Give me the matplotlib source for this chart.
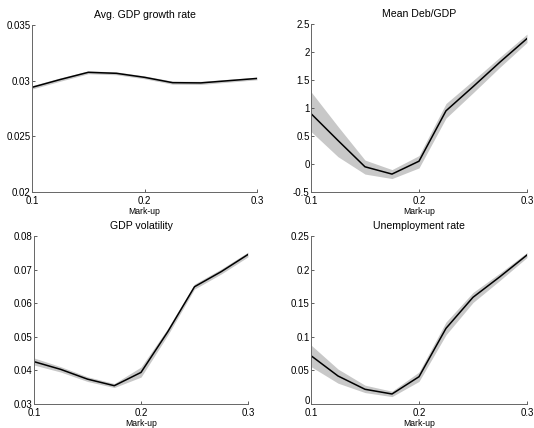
import matplotlib
matplotlib.use("Agg")
import matplotlib.pyplot as plt

plt.rcParams['font.family'] = ['Liberation Sans', 'DejaVu Sans']

markup = [0.1, 0.125, 0.15, 0.175, 0.2, 0.225, 0.25, 0.275, 0.3]

growth_mean = [0.0294, 0.0301, 0.03075, 0.03066, 0.0303, 0.02982, 0.0298, 0.0300, 0.0302]
growth_lo = [0.02925, 0.02995, 0.03062, 0.03053, 0.03017, 0.02968, 0.02966, 0.02987, 0.03008]
growth_hi = [0.02955, 0.03025, 0.03088, 0.03079, 0.03043, 0.02996, 0.02994, 0.03013, 0.03032]

debt_mean = [0.9, 0.42, -0.05, -0.18, 0.05, 0.95, 1.38, 1.82, 2.24]
debt_lo = [0.58, 0.13, -0.18, -0.26, -0.07, 0.82, 1.27, 1.73, 2.17]
debt_hi = [1.29, 0.67, 0.07, -0.10, 0.15, 1.08, 1.49, 1.91, 2.32]

vol_mean = [0.0426, 0.0403, 0.0374, 0.03545, 0.0394, 0.0515, 0.0649, 0.0694, 0.0745]
vol_lo = [0.0416, 0.0395, 0.0367, 0.0349, 0.0380, 0.0505, 0.0642, 0.0687, 0.0738]
vol_hi = [0.0437, 0.0411, 0.0381, 0.0361, 0.0410, 0.0525, 0.0657, 0.0702, 0.0752]

unemp_mean = [0.0719, 0.0417, 0.0219, 0.0149, 0.0406, 0.1126, 0.1588, 0.1895, 0.2217]
unemp_lo = [0.0556, 0.0310, 0.0170, 0.0110, 0.0336, 0.1030, 0.1510, 0.1840, 0.2180]
unemp_hi = [0.0878, 0.0520, 0.0280, 0.0190, 0.0476, 0.1220, 0.1660, 0.1950, 0.2255]

panels = [
    ("Avg. GDP growth rate", growth_mean, growth_lo, growth_hi,
     (0.02, 0.035), [0.02, 0.025, 0.03, 0.035], ["0.02", "0.025", "0.03", "0.035"],
     [32, 25, 257, 192]),
    ("Mean Deb/GDP", debt_mean, debt_lo, debt_hi,
     (-0.5, 2.5), [-0.5, 0, 0.5, 1, 1.5, 2, 2.5], ["-0.5", "0", "0.5", "1", "1.5", "2", "2.5"],
     [311, 24, 527, 192]),
    ("GDP volatility", vol_mean, vol_lo, vol_hi,
     (0.03, 0.08), [0.03, 0.04, 0.05, 0.06, 0.07, 0.08], ["0.03", "0.04", "0.05", "0.06", "0.07", "0.08"],
     [34, 236, 248, 404]),
    ("Unemployment rate", unemp_mean, unemp_lo, unemp_hi,
     (0, 0.25), [0, 0.05, 0.1, 0.15, 0.2, 0.25], ["0", "0.05", "0.1", "0.15", "0.2", "0.25"],
     [311, 236, 527, 404]),
]

W, H = 534, 428
fig = plt.figure(figsize=(W / 100, H / 100), dpi=100)

for title, m, lo, hi, ylim, yt, ytl, (x0, y0, x1, y1) in panels:
    ax = fig.add_axes([x0 / W, (H - y1) / H, (x1 - x0) / W, (y1 - y0) / H])
    ax.fill_between(markup, lo, hi, color='#c8c8c8', linewidth=0)
    ax.plot(markup, m, color='black', linewidth=1.1)
    ax.set_xlim(0.1, 0.3)
    ax.set_ylim(*ylim)
    ax.set_xticks([0.1, 0.2, 0.3])
    ax.set_xticklabels(["0.1", "0.2", "0.3"])
    ax.set_yticks(yt)
    ax.set_yticklabels(ytl)
    ax.spines['top'].set_visible(False)
    ax.spines['right'].set_visible(False)
    for s in ('left', 'bottom'):
        ax.spines[s].set_color('#666666')
        ax.spines[s].set_linewidth(0.7)
    ax.tick_params(direction='in', length=2.5, width=0.6, color='#444444',
                   labelsize=7, pad=1)
    ax.tick_params(axis='x', pad=3.2)
    if ytl[0] == "0":
        # keep the lone "0" from touching the "0.1" below it
        ax.get_yticklabels()[0].set_verticalalignment('baseline')
    ax.set_xlabel("Mark-up", fontsize=6.2, labelpad=0.5)
    ax.set_title(title, fontsize=7.6, pad=5)

fig.savefig("out.png", dpi=100)
